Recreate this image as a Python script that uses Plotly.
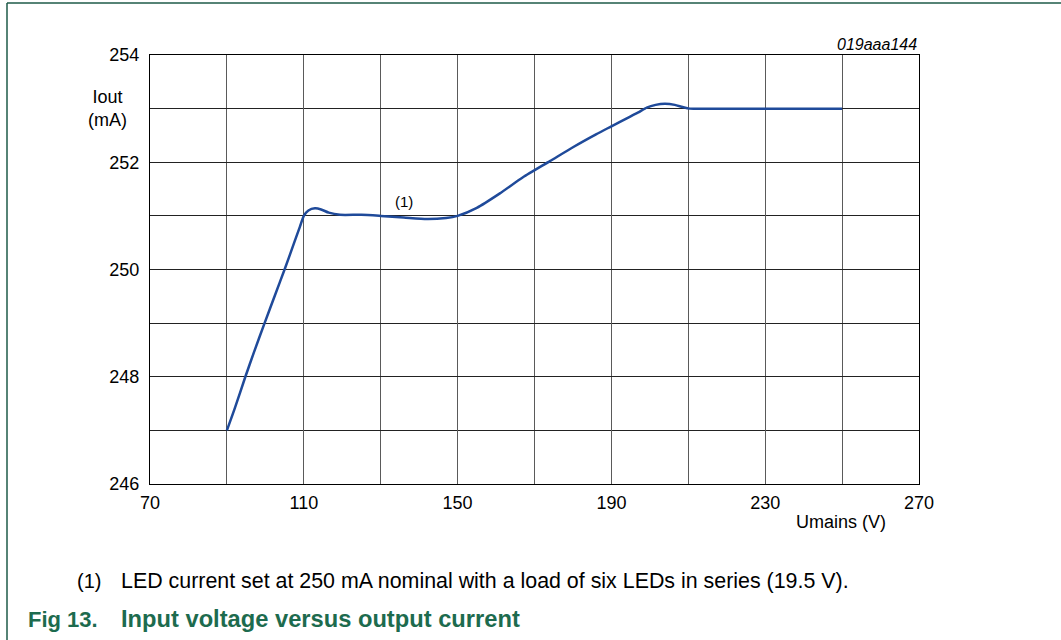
import plotly.graph_objects as go

# Data
umains = [90, 92, 94.8, 97, 99.8, 102.5, 105, 107.5, 109, 110, 111.2, 112.9, 114.5, 116.5, 119.4,
          125, 130, 136, 142, 147, 150, 155, 161, 167, 174, 180, 186, 190, 194, 197,
          199.2, 201.5, 203.9, 206.5, 208.5, 210.4, 220, 230, 240, 250]
iout = [247.0, 247.4, 248.0, 248.45, 249.0, 249.52, 250.0, 250.5, 250.8, 251.0, 251.1, 251.14, 251.12, 251.06, 251.02,
        251.02, 251.0, 250.97, 250.94, 250.96, 251.0, 251.15, 251.42, 251.72, 252.02, 252.28, 252.52, 252.67, 252.82, 252.93,
        253.02, 253.07, 253.09, 253.07, 253.03, 253.0, 253.0, 253.0, 253.0, 253.0]

x_ticks = [70, 110, 150, 190, 230, 270]
y_ticks = [246, 248, 250, 252, 254]

FONT = "Liberation Sans, Arial, sans-serif"
GREEN = "#1d6b4e"

fig = go.Figure()
fig.add_trace(go.Scatter(x=umains, y=iout, mode="lines",
                         line=dict(color="#1f4a9a", width=2.5, shape="spline", smoothing=0.6),
                         hoverinfo="x+y", showlegend=False))

L, R, T, B = 150, 142, 55, 156
W, H = 1061, 640
pw, ph = W - L - R, H - T - B

def px(x):
    return (x - L) / pw

def py(y):
    return 1 - (y - T) / ph

fig.update_layout(
    width=W, height=H,
    margin=dict(l=L, r=R, t=T, b=B),
    paper_bgcolor="white", plot_bgcolor="white",
    font=dict(family=FONT, size=18, color="black"),
    xaxis=dict(range=[x_ticks[0], x_ticks[-1]], tickmode="linear", tick0=x_ticks[0],
               dtick=x_ticks[1] - x_ticks[0],
               showgrid=True, gridcolor="#5a5a5a", gridwidth=1,
               minor=dict(tickmode="linear", tick0=x_ticks[0], dtick=(x_ticks[1] - x_ticks[0]) / 2,
                          showgrid=True, gridcolor="#5a5a5a", gridwidth=1),
               showline=True, linecolor="black", linewidth=1, mirror=True,
               zeroline=False, ticks="", ticklabelstandoff=2, fixedrange=True),
    yaxis=dict(range=[y_ticks[0], y_ticks[-1]], tickmode="linear", tick0=y_ticks[0],
               dtick=y_ticks[1] - y_ticks[0],
               showgrid=True, gridcolor="#222222", gridwidth=1,
               minor=dict(tickmode="linear", tick0=y_ticks[0], dtick=(y_ticks[1] - y_ticks[0]) / 2,
                          showgrid=True, gridcolor="#222222", gridwidth=1),
               showline=True, linecolor="black", linewidth=1, mirror=True,
               zeroline=False, ticks="", ticklabelstandoff=6, fixedrange=True),
)

ann = []
ann.append(dict(x=px(107), y=py(109), xref="paper", yref="paper", text="Iout<br>(mA)",
                showarrow=False, font=dict(size=18), xanchor="center", yanchor="middle"))
ann.append(dict(x=px(841), y=py(522), xref="paper", yref="paper", text="Umains (V)",
                showarrow=False, font=dict(size=18), xanchor="center", yanchor="middle"))
ann.append(dict(x=px(919), y=py(45), xref="paper", yref="paper", text="<i>019aaa144</i>",
                showarrow=False, font=dict(size=16), xanchor="right", yanchor="middle"))
ann.append(dict(x=136, y=251.27, xref="x", yref="y", text="(1)",
                showarrow=False, font=dict(size=15), xanchor="center", yanchor="middle"))
ann.append(dict(x=px(75), y=py(581), xref="paper", yref="paper", text="(1)",
                showarrow=False, font=dict(size=20), xanchor="left", yanchor="middle"))
ann.append(dict(x=px(119), y=py(581), xref="paper", yref="paper",
                text="LED current set at 250 mA nominal with a load of six LEDs in series (19.5 V).",
                showarrow=False, font=dict(size=21.4), xanchor="left", yanchor="middle"))
ann.append(dict(x=px(26), y=py(619), xref="paper", yref="paper", text="<b>Fig 13.</b>",
                showarrow=False, font=dict(size=22, color=GREEN), xanchor="left", yanchor="middle"))
ann.append(dict(x=px(119), y=py(619), xref="paper", yref="paper",
                text="<b>Input voltage versus output current</b>",
                showarrow=False, font=dict(size=23.7, color=GREEN), xanchor="left", yanchor="middle"))
fig.update_layout(annotations=ann)

fig.update_layout(shapes=[
    dict(type="line", xref="paper", yref="paper", x0=px(7), x1=px(1061), y0=py(3), y1=py(3),
         line=dict(color="#1e5a48", width=1.5)),
    dict(type="line", xref="paper", yref="paper", x0=px(7), x1=px(7), y0=py(3), y1=py(640),
         line=dict(color="#1e5a48", width=1.5)),
])

fig.write_html("out.html", config={"displayModeBar": False},
               post_script="document.body.style.margin='0';")
